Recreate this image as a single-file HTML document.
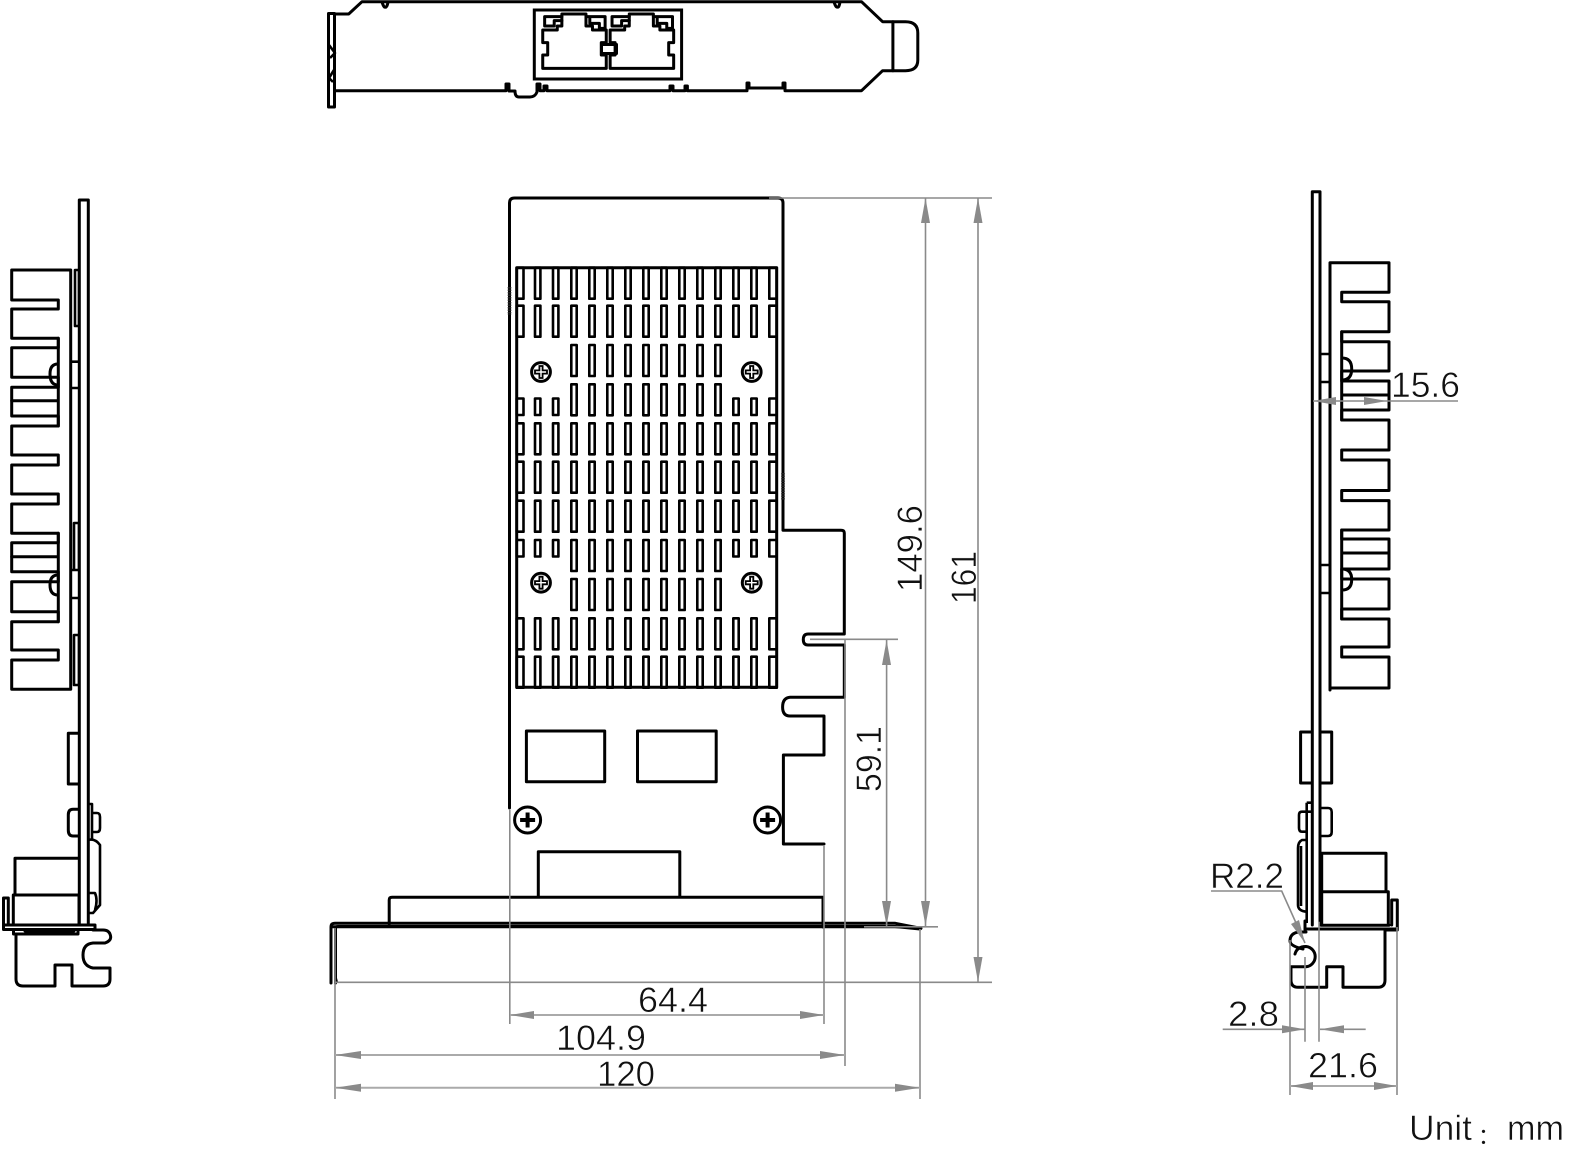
<!DOCTYPE html>
<html><head><meta charset="utf-8"><style>
html,body{margin:0;padding:0;background:#fff;width:1585px;height:1166px;overflow:hidden}
svg{display:block}
text{font-family:"Liberation Sans","Noto Sans CJK SC",sans-serif;font-size:35px;fill:#111;stroke:#fff;stroke-width:.55;paint-order:fill stroke}
.k{fill:none;stroke:#000;stroke-width:3;stroke-linejoin:round;stroke-linecap:round}
.t{fill:none;stroke:#000;stroke-width:2.6;stroke-linejoin:round}
.g{fill:none;stroke:#8a8a8a;stroke-width:1.6}
.a{fill:#8a8a8a;stroke:none}
.n{vector-effect:non-scaling-stroke}
</style></head><body>
<svg width="1585" height="1166" viewBox="0 0 1585 1166" xmlns="http://www.w3.org/2000/svg">
<defs>
<rect id="s" y="0" width="5.4" height="31" class="t"/>
<g id="mid">
<use href="#s" x="571.3"/><use href="#s" x="589.3"/><use href="#s" x="607.3"/><use href="#s" x="625.3"/><use href="#s" x="643.3"/><use href="#s" x="661.3"/><use href="#s" x="679.3"/><use href="#s" x="697.3"/><use href="#s" x="715.3"/>
</g>
<g id="full">
<use href="#mid"/>
<use href="#s" x="535"/><use href="#s" x="553"/><use href="#s" x="733.3"/><use href="#s" x="751.3"/>
<rect x="516.7" width="6.8" height="31" class="t"/><rect x="769.3" width="7.4" height="31" class="t"/>
</g>
<g id="short">
<rect x="535" width="5.4" height="16.5" class="t"/><rect x="553" width="5.4" height="16.5" class="t"/><rect x="733.3" width="5.4" height="16.5" class="t"/><rect x="751.3" width="5.4" height="16.5" class="t"/>
<rect x="516.7" width="6.8" height="16.5" class="t"/><rect x="769.3" width="7.4" height="16.5" class="t"/>
</g>
<g id="scr">
<circle r="9.4" fill="none" stroke="#000" stroke-width="3"/>
<path d="M-6-1.6H-1.6V-6H1.6V-1.6H6V1.6H1.6V6H-1.6V1.6H-6Z" fill="none" stroke="#000" stroke-width="1.8"/>
</g>
<g id="scr2">
<circle r="13" fill="none" stroke="#000" stroke-width="3"/>
<path d="M-7.5-2H-2V-7.5H2V-2H7.5V2H2V7.5H-2V2H-7.5Z" fill="#000"/>
</g>
<g id="jack" transform="translate(320,0) scale(.3827,.3333)">
<path class="k n" d="M582 205V165H595V128H582V90H620V78H632V42H695V78H712V90H748V128H735V165H748V205Z"/>
<path class="k n" d="M632 50H587V78H612V62H632M695 50H745V85H730V70H705V55"/>
</g>
</defs>

<!-- top bracket -->
<g>
<path class="k" d="M328.5 13.5H334.5V107H328.5Z"/>
<path class="k" d="M334.5 14H348.7L362 1.7H861.5L882.6 21.7H905.5Q917.8 21.7 917.8 33V60Q917.8 70.7 905.5 70.7H882.6L861.5 90.7H785V83H783V88H749V83H747V90.7H687.4V86H685V90.7H673V86H670V90.7H547V86H544V90.7H540V84H537V92H537Q535 97 530 97H519Q515 97 515 91H509V84H506V90.7H334.5"/>
<path class="k" d="M382 2Q384 8 385 7Q387 8 388 2M834 2Q836 8 837.4 7Q839 8 840 2M892.9 21.7V70.7"/>
<path class="t" d="M329 45L335 53L330 58M334 70L329 78L333 82"/>
<rect x="534.3" y="10" width="147.3" height="69" fill="none" stroke="#000" stroke-width="3"/>
<use href="#jack"/><use href="#jack" x="67.4"/>
<rect x="601.5" y="44.5" width="15" height="9" class="k"/>
</g>

<!-- left side view -->
<g>
<path class="k" d="M79.3 700V200H88.3V923M79.3 700V923"/>
<path class="k" d="M70.7 270H11.7V300H58.3V309H11.7V338.3H58.3V347.7H11.7V377.3H58.3V387.3H11.7V416H58.3V426H11.7V455H58.3V465H11.7V494H58.3V504H11.7V533.3H58.3V542.7H11.7V571.7H58.3V581.7H11.7V611.7H58.3V621.7H11.7V650H58.3V660H11.7V689.3H70.7V270"/>
<path class="k" d="M58.3 338.3V426M11.7 400.7H58.3M58.3 533.3V621.7M11.7 556.7H58.3"/>
<path class="k" d="M58 364Q50 364 50 374Q50 385 58 385M58 575Q50 575 50 585Q50 595 58 595"/>
<path class="t" d="M75 270H79V326H75ZM70.7 361.7H79M70.7 388H79M74 523H79V570H74ZM70.7 570H79M70.7 598H79M74 635H79V685H74Z"/>
<path class="k" d="M79 733.3H68.3V784H79M79 809.3H73Q68.3 809.3 68.3 815V830Q68.3 836 73 836H79"/>
<path class="t" d="M89 804H92V840M92 813H97Q100 813 100 817V828Q100 832 97 832H92"/>
<path class="t" d="M88 840Q95 838 100 845V905L93 913H88M88 893H95Q98 900 95 910"/>
<path class="k" d="M79 858.3H15V895H79M13.3 895V925M79 925V895"/>
<path class="k" d="M3.5 925H95V929.5H3.5ZM3.5 925V898H8.3V925"/>
<path class="k" d="M13.5 929.5V934H78V929.5M25 931H74"/>
<path class="k" d="M16 935V979Q16 986 23 986H55V965H72V986H103Q110 986 110 979V968H93Q83 966 83 955Q83 944 93 943H105Q110.7 941 110.7 937Q110 930 103 930H93"/>
</g>

<!-- front view -->
<g>
<path class="k" d="M509.5 808V203Q509.5 198 514.5 198H778Q783 198 783 203V530.3H841Q844.3 530.3 844.3 533V634H808Q803.3 634 803.3 639.5Q803.3 645 808 645H844.3V697.3H790Q782.6 698 782.6 707Q782.6 716 790 716H824V755H783.4V844H824"/>
<rect x="516.7" y="267.7" width="260" height="419.6" class="k"/>
<use href="#full" y="267.7"/><use href="#full" y="305.7"/>
<use href="#mid" y="345"/><use href="#mid" y="384.3"/><use href="#short" y="398.5"/>
<use href="#full" y="423.3"/><use href="#full" y="461.7"/><use href="#full" y="500.7"/>
<use href="#mid" y="540"/><use href="#short" y="540"/><use href="#mid" y="579"/>
<use href="#full" y="618.3"/><use href="#full" y="656.7"/>
<use href="#scr" x="541" y="372"/><use href="#scr" x="751.7" y="372"/>
<use href="#scr" x="541" y="582.7"/><use href="#scr" x="751.7" y="582.7"/>
<use href="#scr2" x="527.6" y="820"/><use href="#scr2" x="767.6" y="820"/>
<path d="M509.5 287V315M783 473V500" stroke="#222" stroke-width="3.6" stroke-dasharray="1.5 1" fill="none"/>
<rect x="526.4" y="731" width="78.3" height="50.7" class="k"/>
<rect x="637.5" y="731" width="78.7" height="50.7" class="k"/>
<path class="k" d="M538.3 897V851.7H679.8V897"/>
<path class="k" d="M389.2 924V900Q389.2 897.3 392 897.3H823V927"/>
<path class="k" d="M331 983V927Q331 923.3 335 923.3H895.3L921 928.3"/>
<path class="k" d="M335.5 983V928Q335.5 926.5 338 926.5H895L920 929"/>
<path d="M335 970L338 982L334 982Z" fill="#000"/>
<path d="M332 926.7H905" stroke="#000" stroke-width="3"/>
</g>

<!-- front dims -->
<g class="g">
<path d="M769 198H992M335 982.3H992M864 926.8H938M810 639.3H898"/>
<path d="M509.8 810V1024M824 846V1024M845 640V1066M335 928V1099M920 929V1099"/>
<path d="M925.5 198V926M978 198V982M886.6 640V926"/>
<path d="M510 1015H824M335 1055H845M335 1087.7H920" stroke="#aaa" stroke-width="2"/>
</g>
<g class="a">
<polygon points="925.5,198 921,223 930,223"/><polygon points="925.5,926 921,901 930,901"/>
<polygon points="978,198 973.5,223 982.5,223"/><polygon points="978,982 973.5,957 982.5,957"/>
<polygon points="886.6,640 882,665 891,665"/><polygon points="886.6,926 882,901 891,901"/>
<polygon points="510,1015 534,1011 534,1019"/><polygon points="824,1015 800,1011 800,1019"/>
<polygon points="335,1055 361,1051 361,1059"/><polygon points="845,1055 820,1051 820,1059"/>
<polygon points="335,1087.7 361,1083.7 361,1091.7"/><polygon points="920,1087.7 895,1083.7 895,1091.7"/>
</g>
<text transform="translate(922,592) rotate(-90)" textLength="87" lengthAdjust="spacingAndGlyphs">149.6</text>
<text transform="translate(976,604) rotate(-90)" textLength="53" lengthAdjust="spacingAndGlyphs">161</text>
<text transform="translate(881,792) rotate(-90)" textLength="66" lengthAdjust="spacingAndGlyphs">59.1</text>
<text x="638" y="1012" textLength="70" lengthAdjust="spacingAndGlyphs">64.4</text>
<text x="556" y="1050" textLength="90" lengthAdjust="spacingAndGlyphs">104.9</text>
<text x="597" y="1086" textLength="58" lengthAdjust="spacingAndGlyphs">120</text>

<!-- right side view -->
<g>
<path class="k" d="M1312.3 925V191.7H1320V925"/>
<path class="k" d="M1330 690V262.7H1389V292.3H1341.7V301.7H1389V331.7H1341.7V341.7H1389V371H1341.7V381H1389V410H1341.7V420H1389V450H1341.7V460H1389V490.5H1341.7V500.6H1389V530H1341.7V539H1389V569H1341.7V579H1389V609H1341.7V619H1389V647H1341.7V657H1389V688H1330"/>
<path class="k" d="M1341.7 331.7V420M1341.7 395H1389M1341.7 530V619M1341.7 553H1389"/>
<path class="k" d="M1342 358Q1351.7 358 1351.7 369Q1351.7 380 1342 380M1342 569Q1351.7 569 1351.7 579.5Q1351.7 590 1342 590"/>
<path class="t" d="M1320 354H1330M1320 382H1330M1320 565H1330M1320 593H1330"/>
<path class="k" d="M1312 732H1300.6V783H1312M1320 732H1331.7V783H1320"/>
<path class="t" d="M1311.7 811.7H1302Q1299 811.7 1299 815V828Q1299 831.7 1302 831.7H1306.7M1306.7 802.7H1311.7M1306.7 802.7V923"/>
<path class="t" d="M1320 808H1328Q1331.7 808 1331.7 812V832Q1331.7 836 1328 836H1320"/>
<path class="t" d="M1306.7 840H1302Q1298 842 1298 848V905Q1298 911 1306.7 911.7M1301 846V906"/>
<path class="k" d="M1321.7 853.3H1386V890M1321.7 891.7H1388.3V925M1321.7 853.3V925"/>
<path class="k" d="M1305 929H1396.5M1321 925.3H1389M1305 921V930M1391.7 925V900H1397.3V930H1385"/>
<path class="k" d="M1306 932H1299Q1290 933 1290 941Q1290 946 1303 949M1295 954Q1297 946.5 1306 946.5A10.2 10.2 0 0 1 1306 966.8H1291V980Q1291 987.3 1298 987.3H1326.7V966.7H1343V987.3H1378Q1385 987.3 1385 980V930"/>
</g>

<!-- right dims -->
<g class="g">
<path d="M1313 401H1458M1211 891H1281.7L1305 943M1222.7 1029.3H1305M1320 1029.3H1365.7"/>
<path d="M1290 940V1095M1397 927V1095M1305 957V1041.7M1319 921.7V1041.7"/>
<path d="M1290 1086H1397" stroke="#aaa" stroke-width="2"/>
</g>
<g class="a">
<polygon points="1313,401 1336,397 1336,405"/><polygon points="1387,401 1364,397 1364,405"/>
<polygon points="1305,943 1291,924 1299,920"/>
<polygon points="1305,1029.3 1282,1025.3 1282,1033.3"/><polygon points="1320,1029.3 1344,1025.3 1344,1033.3"/>
<polygon points="1290,1086 1313,1082 1313,1090"/><polygon points="1397,1086 1374,1082 1374,1090"/>
</g>
<text x="1391" y="397" textLength="69" lengthAdjust="spacingAndGlyphs">15.6</text>
<text x="1210" y="888" textLength="74" lengthAdjust="spacingAndGlyphs">R2.2</text>
<text x="1228" y="1026" textLength="51" lengthAdjust="spacingAndGlyphs">2.8</text>
<text x="1308" y="1077.5" textLength="70" lengthAdjust="spacingAndGlyphs">21.6</text>
<text x="1409" y="1140" textLength="63" lengthAdjust="spacingAndGlyphs">Unit</text>
<text x="1478" y="1144" style="font-size:22px;stroke:none">：</text>
<text x="1507" y="1140" textLength="57" lengthAdjust="spacingAndGlyphs">mm</text>
</svg>
</body></html>
